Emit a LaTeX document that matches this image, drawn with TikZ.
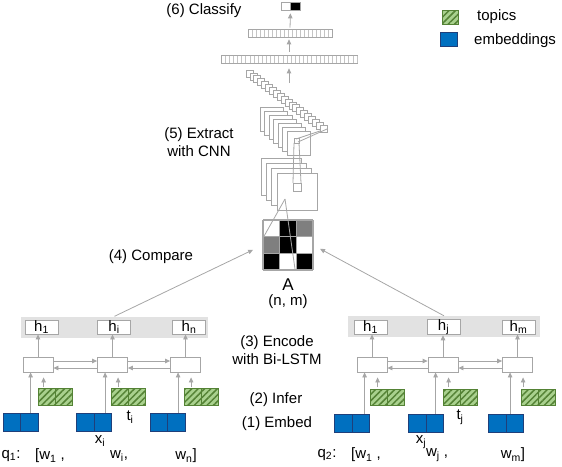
\documentclass[tikz,border=0pt]{standalone}
\usepackage{fontspec}
\setmainfont{Liberation Sans}
\usetikzlibrary{arrows.meta,patterns.meta,calc}
\definecolor{lg}{HTML}{A6A6A6}
\definecolor{lg2}{HTML}{C4C4C4}
\definecolor{bandc}{HTML}{E2E2E2}
\definecolor{embblue}{HTML}{0070C0}
\definecolor{embdark}{HTML}{1F3F7A}
\definecolor{tlight}{HTML}{A9D18E}
\definecolor{tdark}{HTML}{548235}
\definecolor{cellgray}{HTML}{7F7F7F}
\newcommand\sbs[1]{\textsubscript{#1}}
\tikzset{
 gl/.style={draw=lg,line width=0.8pt},
 ga/.style={draw=lg,line width=0.8pt,-{Triangle[length=5pt,width=4.5pt]}},
 hbox/.style={draw=lg,fill=white,line width=0.8pt,minimum width=33pt,minimum height=14pt,inner sep=0pt},
 lstm/.style={draw=lg,fill=white,line width=0.8pt,minimum width=30pt,minimum height=15pt,inner sep=0pt},
 embcell/.style={draw=embdark,fill=embblue,line width=1pt,inner sep=0pt},
 emb/.style={embcell,minimum width=35pt,minimum height=18pt,path picture={\draw[embdark,line width=1pt] (path picture bounding box.north)--(path picture bounding box.south);}},
 topiccell/.style={draw=tdark,line width=1pt,inner sep=0pt,preaction={fill=tlight},pattern={Lines[angle=45,distance=4.5pt,line width=1.5pt]},pattern color=tdark},
 topic/.style={topiccell,minimum width=34pt,minimum height=16.5pt,path picture={\draw[tdark,line width=1pt] (path picture bounding box.north)--(path picture bounding box.south);}},
 band/.style={fill=bandc,inner sep=0pt,minimum height=21pt},
 fm/.style={draw=lg,fill=white,line width=0.7pt},
 fc/.style={draw=lg,fill=white,line width=0.7pt,inner sep=0pt,minimum height=8pt},
}
\begin{document}
\begin{tikzpicture}[x=1pt,y=-1pt,font=\fontsize{15}{18}\selectfont]
\useasboundingbox (0,0) rectangle (562,466);

% ---------- legend
\node[topiccell,minimum width=16pt,minimum height=14pt] (legT) at (450,17) {};
\node[anchor=west,inner sep=0pt] (legTt) at (477,17) {topics};
\node[embcell,minimum width=17pt,minimum height=14pt] (legE) at (449,39) {};
\node[anchor=west,inner sep=0pt] (legEt) at (474,41) {embeddings};

% ---------- stage labels
\node (t6) at (204,11) {(6) Classify};
\node[align=center] (t5) at (199,142) {(5) Extract\\with CNN};
\node (t4) at (151,257) {(4) Compare};
\node[align=center] (t3) at (277,350) {(3) Encode\\with Bi-LSTM};
\node (t2) at (276,400) {(2) Infer};
\node (t1) at (277,424) {(1) Embed};

% ---------- classifier layers
\node[fc,minimum width=136pt] (fc1) at (289,59) {};
\foreach \k in {1,...,33} \draw[lg2,line width=0.5pt] (221+4.12*\k,55.5) -- (221+4.12*\k,62.5);
\node[fc,minimum width=84pt] (fc2) at (290,33) {};
\foreach \k in {1,...,20} \draw[lg2,line width=0.5pt] (248+4*\k,29.5) -- (248+4*\k,36.5);
\node[fill=white,draw=lg,line width=0.7pt,minimum width=9.5pt,minimum height=8pt,inner sep=0pt] (outw) at (285.75,6) {};
\node[fill=black,draw=lg,line width=0.7pt,minimum width=9.5pt,minimum height=8pt,inner sep=0pt] (outb) at (295.25,6) {};
\coordinate (outc) at ($(outw.south)!0.5!(outb.south)$);
\draw[ga,shorten <=1pt,shorten >=3pt] (fc2.north) -- (outc);
\draw[ga,shorten <=3pt,shorten >=2pt] (fc1.north) -- (fc1.north |- fc2.south);
\coordinate (cnntop) at (289,83);
\draw[ga,shorten >=5pt] (cnntop) -- (cnntop |- fc1.south);

% ---------- feature maps
\foreach \i in {0,...,19} \draw[fm] (246+3.9*\i,70+2.9*\i) rectangle ++(7,7);
\foreach \i in {0,...,6} \draw[fm] (260+4.5*\i,107+4*\i) rectangle ++(23,24);
\foreach \i in {0,...,3} \draw[fm] (261+5.33*\i,158+5*\i) rectangle ++(40,37);
\draw[gl] (294,138) rectangle (299,143);
\draw[gl] (293,183) rectangle (301,191);
\draw[gl] (294,143) -- (293,183);
\draw[gl] (299,143) -- (301,183);
\draw[gl] (296,139) -- (320,131);
\draw[gl] (298,142) -- (327,129);

% ---------- matrix A
\node[minimum size=50pt,inner sep=0pt,outer sep=0pt] (mat) at (288,245) {};
\foreach \r/\c/\col in {0/0/white,0/1/black,0/2/cellgray,1/0/cellgray,1/1/black,1/2/white,2/0/black,2/1/white,2/2/black}
  \fill[\col] (263+\c*16.667,220+\r*16.667) rectangle ++(16.667,16.667);
\foreach \k in {0,...,3} {
  \draw[lg,line width=1.2pt] (263+\k*16.667,220) -- (263+\k*16.667,270);
  \draw[lg,line width=1.2pt] (263,220+\k*16.667) -- (313,220+\k*16.667);
}
\draw[gl] (285,199) -- (263,238);
\draw[gl] (285,199) -- (295,269);
\node[inner sep=0pt] (Alab) at (288,285) {\fontsize{17}{18}\selectfont A};
\node[inner sep=0pt] (nm) at (288,302) {(n, m)};

% ---------- left question
\node[band,minimum width=187pt] (band1) at (114.5,327) {};
\node[hbox] (h11) at (41.5,327) {h\sbs{1}};
\node[hbox] (h1i) at (114,327) {h\sbs{i}};
\node[hbox] (h1n) at (189,327) {h\sbs{n}};
\node[lstm] (l11) at (38,364.5) {};
\node[lstm] (l1i) at (112.5,364.5) {};
\node[lstm] (l1n) at (185.5,364.5) {};
\node[topic] (tp11) at (55,397) {};
\node[topic] (tp1i) at (128,397) {};
\node[topic] (tp1n) at (201.5,397) {};
\node[emb] (e11) at (20.5,422) {};
\node[emb] (e1i) at (94,422) {};
\node[emb] (e1n) at (167.5,422) {};
\node (ti) at (130,417) {t\sbs{i}};
\node (xi) at (100,441) {x\sbs{i}};
\node (q1) at (11,456) {q\sbs{1}:};
\node (w11) at (50,456) {[w\sbs{1} ,};
\node (w1i) at (119,456) {w\sbs{i},};
\node (w1n) at (186,456) {w\sbs{n}]};

% ---------- right question
\node[band,minimum width=192pt] (band2) at (444,326.5) {};
\node[hbox] (h21) at (370.5,327) {h\sbs{1}};
\node[hbox] (h2j) at (443.5,327) {h\sbs{j}};
\node[hbox] (h2m) at (518.5,327) {h\sbs{m}};
\node[lstm] (l21) at (372,364.5) {};
\node[lstm] (l2j) at (443,364.5) {};
\node[lstm] (l2m) at (517.5,364.5) {};
\node[topic] (tp21) at (387,397.5) {};
\node[topic] (tp2j) at (460,397.5) {};
\node[topic] (tp2m) at (538,397.5) {};
\node[emb] (e21) at (352,423) {};
\node[emb] (e2j) at (426,423) {};
\node[emb] (e2m) at (506,423) {};
\node (tj) at (460,417) {t\sbs{j}};
\node (xj) at (421,442) {x\sbs{j}};
\node (q2) at (327,455) {q\sbs{2}:};
\node (w21) at (366,455) {[w\sbs{1} ,};
\node (w2j) at (437,455) {w\sbs{j} ,};
\node (w2m) at (513,455) {w\sbs{m}]};

% ---------- connectors in the encoders
\foreach \l/\h/\e in {l11/h11/e11,l1i/h1i/e1i,l1n/h1n/e1n,l21/h21/e21,l2j/h2j/e2j,l2m/h2m/e2m} {
  \draw[ga] (\l.north) -- (\l.north |- \h.south);
  \draw[ga] ($(\l.south west |- \e.north)+(8,0)$) -- ($(\l.south west)+(8,0)$);
  \draw[ga] ($(\l.south west)+(21,15)$) -- ($(\l.south west)+(21,5)$);
}
\foreach \a/\b in {l11/l1i,l1i/l1n,l21/l2j,l2j/l2m} {
  \draw[ga] ($(\a.east)+(0,-3.5)$) -- ($(\b.west)+(0,-3.5)$);
  \draw[ga] ($(\b.west)+(0,3.5)$) -- ($(\a.east)+(0,3.5)$);
}

% ---------- to the matrix
\draw[ga,shorten >=11pt] (band1.north) -- (mat.west);
\draw[ga,shorten >=8pt] (band2.north) -- (mat.east);
\end{tikzpicture}
\end{document}
